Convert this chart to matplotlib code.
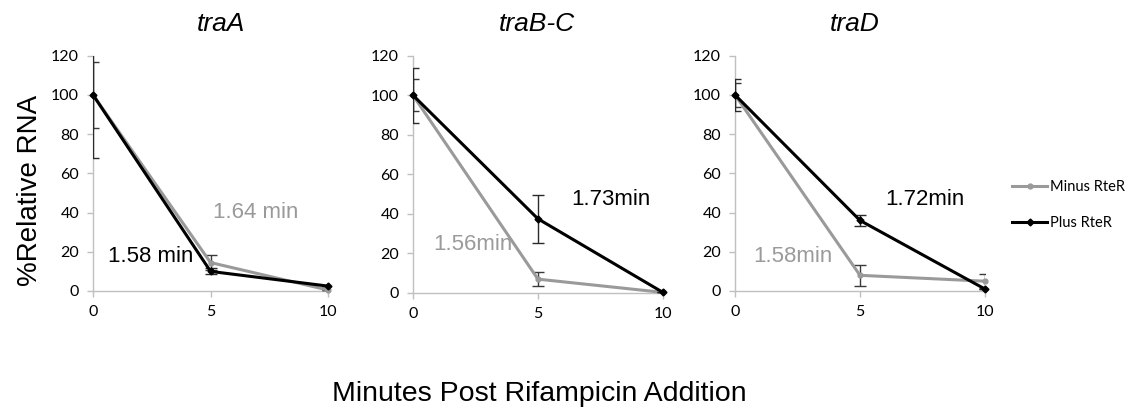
import matplotlib
matplotlib.use("Agg")
import matplotlib.pyplot as plt
from matplotlib.lines import Line2D

# time points (minutes after rifampicin)
minutes = [0, 5, 10]

titles = ["traA", "traB-C", "traD"]

# %Relative RNA, one list per panel
minus_vals = [[100, 14.5, 0.5], [100, 7, 0.3], [100, 8, 5]]
plus_vals = [[100, 10, 2.5], [100, 37.5, 0.3], [100, 36, 1]]
minus_err = [[17, 4, 0], [8, 3.6, 0], [6, 5.3, 3.5]]
plus_err = [[32, 1.5, 0], [14, 12, 0], [8, 3, 0]]

# half-life labels: (text, x, y)
minus_notes = [("1.64 min", 5.1, 40), ("1.56min", 0.8, 24.5), ("1.58min", 0.72, 17.7)]
plus_notes = [("1.58 min", 0.65, 17.4), ("1.73min", 6.35, 47.5), ("1.72min", 6.0, 46.6)]

GRAY = "#9a9a9a"
AXC = "#c0c0c0"
SANS = "Liberation Sans"
TICKF = "Lato"

fig = plt.figure(figsize=(11.32, 4.13), dpi=100)

# axes boxes in figure fractions
boxes = [
    (0.0822, 0.2954, 0.2076, 0.5697),
    (0.3648, 0.2906, 0.2208, 0.5746),
    (0.6493, 0.2954, 0.2208, 0.5697),
]
title_x = [221, 537, 855]

for i in range(3):
    ax = fig.add_axes(boxes[i])
    l1 = ax.errorbar(minutes, minus_vals[i], yerr=minus_err[i], color=GRAY, lw=2.2,
                     marker="o", ms=3.5, ecolor="#3a3a3a", elinewidth=1, capsize=4,
                     capthick=1, zorder=3)
    l2 = ax.errorbar(minutes, plus_vals[i], yerr=plus_err[i], color="black", lw=2.2,
                     marker="D", ms=3.5, ecolor="#2a2a2a", elinewidth=1, capsize=4,
                     capthick=1, zorder=4)
    for ln in (l1.lines[0], l2.lines[0]):
        ln.set_clip_on(False)

    ax.set_xlim(0, 10)
    ax.set_ylim(0, 120)
    ax.set_xticks([0, 5, 10])
    ax.set_yticks(range(0, 121, 20))
    for s in ("top", "right"):
        ax.spines[s].set_visible(False)
    for s in ("left", "bottom"):
        ax.spines[s].set_color(AXC)
        ax.spines[s].set_linewidth(1)
    ax.tick_params(axis="both", color=AXC, length=4, width=1, labelsize=11.5, pad=6)
    for lab in ax.get_xticklabels() + ax.get_yticklabels():
        lab.set_fontfamily(TICKF)

    t, x, y = minus_notes[i]
    ax.text(x, y, t, color=GRAY, fontsize=16, family=SANS, ha="left", va="center", zorder=5)
    t, x, y = plus_notes[i]
    ax.text(x, y, t, color="black", fontsize=16, family=SANS, ha="left", va="center", zorder=5)

    fig.text(title_x[i] / 1132, 1 - 24 / 413, titles[i], fontsize=19, style="italic",
             family=SANS, ha="center", va="center")

handles = [Line2D([], [], color=GRAY, lw=2.2, marker="o", ms=3.5),
           Line2D([], [], color="black", lw=2.2, marker="D", ms=3.5)]
fig.legend(handles, ["Minus RteR", "Plus RteR"], loc="center left",
           bbox_to_anchor=(1012 / 1132, 1 - 205 / 413), frameon=False,
           prop={"family": TICKF, "size": 10.5}, handlelength=2.4, handletextpad=0.2,
           labelspacing=1.5, borderpad=0, borderaxespad=0)

fig.text(30 / 1132, 1 - 190 / 413, "%Relative RNA", rotation=90, fontsize=20,
         family=SANS, ha="center", va="center")
fig.text(539 / 1132, 1 - 394 / 413, "Minutes Post Rifampicin Addition", fontsize=20.5,
         family=SANS, ha="center", va="center")

fig.savefig("out.png", dpi=100)
